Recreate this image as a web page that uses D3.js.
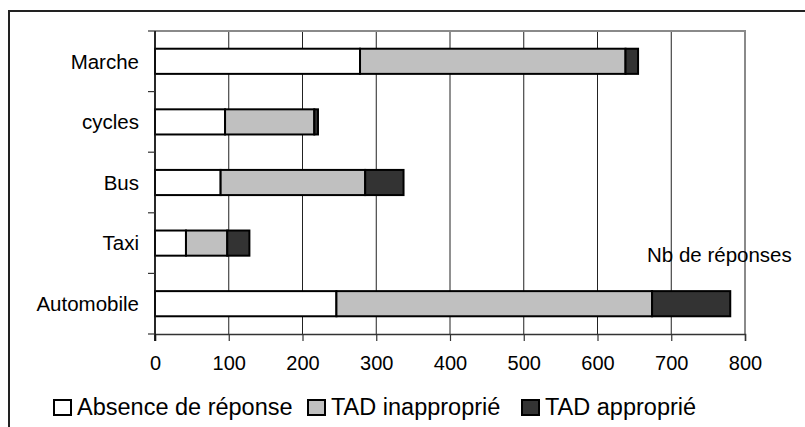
<!DOCTYPE html>
<html>
<head>
<meta charset="utf-8">
<script src="https://cdn.jsdelivr.net/npm/d3@7"></script>
<style>
  html, body { margin: 0; padding: 0; background: #fff; }
  svg { display: block; font-family: "Liberation Sans", Arial, sans-serif; }
</style>
</head>
<body>
<svg id="chart" width="805" height="427"></svg>
<script>
const categories = ["Marche", "cycles", "Bus", "Taxi", "Automobile"];
const seriesNames = ["Absence de réponse", "TAD inapproprié", "TAD approprié"];
const absence = [278, 95, 89, 42, 246];
const inapproprie = [360, 121, 196, 56, 428];
const approprie = [17, 5, 52, 30, 106];
const xTicks = [0, 100, 200, 300, 400, 500, 600, 700, 800];
const axisTitle = "Nb de réponses";
const colors = ["#ffffff", "#c0c0c0", "#333333"];

const svg = d3.select("#chart");
const pLeft = 155, pRight = 745, pTop = 31, pBottom = 334;

// outer frame
svg.append("rect").attr("x", 9).attr("y", 11).attr("width", 820).attr("height", 440)
  .attr("fill", "none").attr("stroke", "#222").attr("stroke-width", 2);

const x = d3.scaleLinear().domain([0, 800]).range([pLeft, pRight]);
const y = d3.scaleBand().domain(categories).range([pTop, pBottom])
  .paddingInner(0.585).paddingOuter(0.2925);

// gridlines
svg.append("g").selectAll("line").data(xTicks.slice(1, -1)).join("line")
  .attr("x1", d => x(d)).attr("x2", d => x(d))
  .attr("y1", pTop).attr("y2", pBottom)
  .attr("stroke", "#222").attr("stroke-width", 1);

// plot border (top & right)
svg.append("path")
  .attr("d", `M${pLeft},${pTop}H${pRight}V${pBottom}`)
  .attr("fill", "none").attr("stroke", "#8a8a8a").attr("stroke-width", 2);

// stacked data
const rows = categories.map((c, i) => ({ cat: c, a: absence[i], b: inapproprie[i], c2: approprie[i] }));
const stack = d3.stack().keys(["a", "b", "c2"])(rows);

svg.append("g").selectAll("g").data(stack).join("g")
  .attr("fill", (d, i) => colors[i])
  .selectAll("rect").data(d => d).join("rect")
  .attr("x", d => x(d[0]))
  .attr("width", d => x(d[1]) - x(d[0]))
  .attr("y", d => y(d.data.cat))
  .attr("height", y.bandwidth())
  .attr("stroke", "#000").attr("stroke-width", 2);

// bottom axis
const xAxis = d3.axisBottom(x).tickValues(xTicks).tickSize(7).tickPadding(15).tickFormat(d3.format("d"));
const gx = svg.append("g").attr("transform", `translate(0,${pBottom})`).call(xAxis);
gx.select(".domain").attr("stroke", "#333").attr("stroke-width", 1.5);
gx.selectAll(".tick line").attr("stroke", "#333").attr("stroke-width", 1.2);
gx.selectAll(".tick text").attr("font-size", 20).attr("fill", "#000")
  .attr("font-family", "Liberation Sans, Arial, sans-serif");

// left axis with ticks at band boundaries
const boundaries = d3.range(categories.length + 1).map(i => pTop + i * y.step());
svg.append("line").attr("x1", pLeft).attr("x2", pLeft).attr("y1", pTop).attr("y2", pBottom + 7)
  .attr("stroke", "#111").attr("stroke-width", 1.8);
svg.append("g").selectAll("line").data(boundaries).join("line")
  .attr("x1", pLeft - 7).attr("x2", pLeft).attr("y1", d => d).attr("y2", d => d)
  .attr("stroke", "#333").attr("stroke-width", 1.2);
svg.append("g").selectAll("text").data(categories).join("text")
  .attr("x", 139).attr("y", d => y(d) + y.bandwidth() / 2)
  .attr("dy", "0.36em").attr("text-anchor", "end")
  .attr("font-size", 20.5).attr("fill", "#000").text(d => d);

// axis title
svg.append("text").attr("x", 647).attr("y", 262).attr("font-size", 20.5)
  .attr("fill", "#000").text(axisTitle);

// legend
const legendX = [54, 308, 522];
const lg = svg.append("g").selectAll("g").data(seriesNames).join("g")
  .attr("transform", (d, i) => `translate(${legendX[i]},0)`);
lg.append("rect").attr("x", 0).attr("y", 400).attr("width", 17).attr("height", 15)
  .attr("fill", (d, i) => colors[i]).attr("stroke", "#000").attr("stroke-width", 2);
lg.append("text").attr("x", 23).attr("y", 415).attr("font-size", 23.5)
  .attr("fill", "#000").text(d => d);
</script>
</body>
</html>
